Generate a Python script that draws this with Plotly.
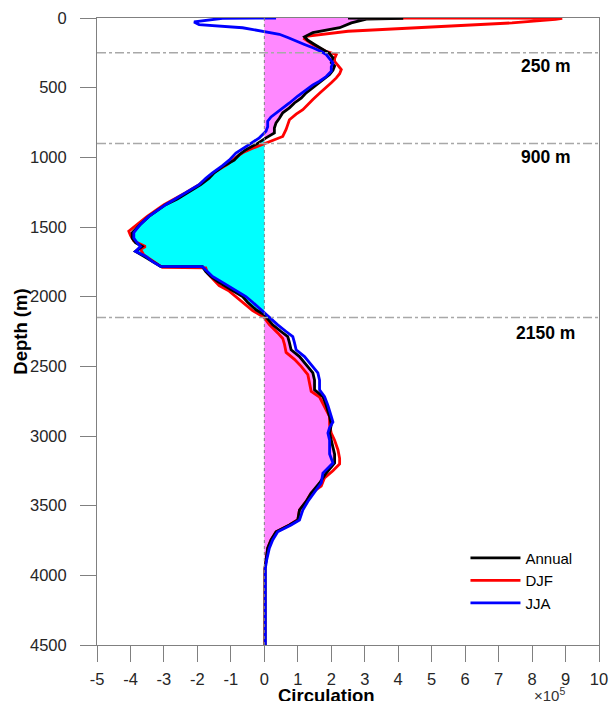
import numpy as np
import plotly.graph_objects as go

# ---------------- data (values in units of 1e5) ----------------
annual_depth = [0, 2, 8, 35, 70, 105, 135, 160, 190, 225, 255, 286, 320, 345, 375, 406, 435, 465,
                500, 537, 575, 610, 645, 680, 720, 753, 790, 825, 860, 900, 945, 981, 1020, 1060,
                1111, 1150, 1196, 1254, 1300, 1340, 1380, 1424, 1480, 1541, 1580, 1613, 1640, 1675,
                1710, 1747, 1783, 1785, 1820, 1855, 1890, 1927, 1960, 1999, 2040, 2094, 2130, 2160,
                2202, 2250, 2286, 2330, 2381, 2430, 2490, 2547, 2600, 2669, 2717, 2780, 2860, 2920,
                2979, 3030, 3076, 3130, 3194, 3266, 3337, 3409, 3470, 3531, 3603, 3639, 3687, 3746,
                3805, 3890, 3950, 4500]
annual_val = [2.5, 4.15, 3.05, 2.6, 2.25, 1.45, 1.2, 1.3, 1.5, 1.75, 1.95, 2.05, 2.0, 2.1, 2.05, 1.95,
              1.8, 1.65, 1.45, 1.25, 1.1, 0.9, 0.75, 0.55, 0.45, 0.35, 0.3, 0.3, 0.05, -0.2, -0.55,
              -0.75, -0.9, -1.2, -1.5, -1.65, -1.9, -2.3, -2.6, -2.95, -3.2, -3.45, -3.7, -3.95,
              -3.95, -3.85, -3.65, -3.85, -3.6, -3.35, -3.1, -1.85, -1.75, -1.6, -1.4, -1.15, -0.9,
              -0.65, -0.5, -0.25, 0.0, 0.1, 0.25, 0.5, 0.7, 0.75, 0.8, 1.05, 1.25, 1.45, 1.5, 1.5,
              1.75, 1.85, 1.95, 2.0, 1.95, 2.0, 2.05, 2.1, 2.1, 1.85, 1.65, 1.4, 1.25, 1.05, 1.0,
              0.75, 0.35, 0.2, 0.1, 0.05, 0.02, 0.02]

djf_depth = [0, 2, 10, 35, 95, 131, 150, 190, 240, 262, 290, 312, 340, 370, 400, 430, 465, 500,
             540, 585, 620, 658, 690, 730, 765, 800, 850, 885, 930, 967, 1000, 1050, 1100, 1150,
             1196, 1254, 1300, 1340, 1424, 1480, 1530, 1560, 1600, 1640, 1660, 1700, 1747, 1790,
             1793, 1830, 1870, 1920, 1960, 2000, 2050, 2100, 2150, 2200, 2260, 2300, 2340, 2400,
             2450, 2500, 2560, 2620, 2680, 2720, 2790, 2860, 2920, 2980, 3030, 3100, 3160, 3200,
             3250, 3300, 3360, 3409, 3470, 3531, 3600, 3639, 3687, 3746, 3805, 3890, 3950, 4500]
djf_val = [3.0, 8.9, 8.7, 7.4, 2.5, 1.25, 1.2, 1.45, 1.85, 2.15, 2.1, 2.1, 2.2, 2.3, 2.25, 2.15, 2.0,
           1.85, 1.65, 1.45, 1.3, 1.15, 0.95, 0.75, 0.7, 0.65, 0.55, 0.15, -0.3, -0.65, -0.85, -1.1,
           -1.45, -1.7, -1.95, -2.35, -2.7, -3.0, -3.5, -3.8, -4.05, -4.0, -3.9, -3.55, -3.7, -3.6,
           -3.3, -3.05, -1.75, -1.7, -1.55, -1.35, -1.05, -0.85, -0.6, -0.35, 0.0, 0.15, 0.4, 0.55,
           0.6, 0.65, 0.9, 1.1, 1.3, 1.35, 1.4, 1.65, 1.8, 1.95, 1.95, 2.0, 2.1, 2.2, 2.25, 2.25,
           2.05, 1.8, 1.7, 1.4, 1.25, 1.05, 1.0, 0.75, 0.35, 0.2, 0.1, 0.05, 0.02, 0.02]

jja_depth = [0, 2, 28, 47, 70, 95, 117, 140, 167, 190, 214, 240, 262, 290, 322, 350, 382, 420, 454,
             480, 514, 560, 610, 645, 680, 710, 741, 780, 813, 860, 900, 970, 1020, 1060, 1111,
             1150, 1196, 1254, 1300, 1340, 1424, 1480, 1541, 1580, 1613, 1640, 1675, 1710, 1747,
             1783, 1785, 1820, 1855, 1890, 1927, 1960, 1999, 2040, 2094, 2120, 2150, 2202, 2250,
             2286, 2330, 2381, 2430, 2490, 2547, 2600, 2669, 2717, 2780, 2860, 2900, 2940, 2979,
             3030, 3076, 3130, 3194, 3266, 3337, 3400, 3470, 3531, 3603, 3639, 3687, 3746, 3805,
             3890, 3950, 4500]
jja_val = [0.35, -1.25, -2.1, -1.95, -0.65, -0.05, 0.45, 0.7, 0.95, 1.2, 1.45, 1.7, 1.85, 1.95, 2.05,
           2.0, 2.0, 1.85, 1.65, 1.45, 1.25, 1.0, 0.75, 0.55, 0.35, 0.2, 0.1, 0.1, 0.05, -0.15, -0.4,
           -0.85, -1.05, -1.25, -1.55, -1.75, -1.95, -2.35, -2.7, -2.95, -3.45, -3.7, -3.9, -3.9,
           -3.8, -3.7, -3.85, -3.55, -3.35, -3.1, -1.85, -1.7, -1.55, -1.3, -1.05, -0.8, -0.55,
           -0.35, -0.1, 0.0, 0.15, 0.4, 0.65, 0.85, 0.9, 0.95, 1.2, 1.4, 1.6, 1.65, 1.65, 1.8, 1.9,
           2.0, 2.05, 1.95, 1.9, 1.95, 1.95, 1.95, 2.05, 1.75, 1.7, 1.5, 1.3, 1.15, 1.05, 0.8, 0.4,
           0.25, 0.15, 0.07, 0.03, 0.03]

ref_depths = [250, 900, 2150]
ref_labels = ["250 m", "900 m", "2150 m"]
ref_label_depths = [341, 995, 2259]

x_ticks = list(range(-5, 11))
y_ticks = list(range(0, 4501, 500))

FONT = "Liberation Sans, Arial, sans-serif"

fig = go.Figure()

a = np.array(annual_val)
fig.add_trace(go.Scatter(x=np.maximum(a, 0), y=annual_depth, mode="lines", fill="tozerox",
                         fillcolor="rgb(255,136,255)", line=dict(width=0), showlegend=False,
                         hoverinfo="skip"))
fig.add_trace(go.Scatter(x=np.minimum(a, 0), y=annual_depth, mode="lines", fill="tozerox",
                         fillcolor="rgb(0,255,255)", line=dict(width=0), showlegend=False,
                         hoverinfo="skip"))

fig.add_trace(go.Scatter(x=djf_val, y=djf_depth, mode="lines", name="DJF",
                         line=dict(color="#ff0000", width=2.8), legendrank=2))
fig.add_trace(go.Scatter(x=annual_val, y=annual_depth, mode="lines", name="Annual",
                         line=dict(color="#000000", width=2.8), legendrank=1))
fig.add_trace(go.Scatter(x=jja_val, y=jja_depth, mode="lines", name="JJA",
                         line=dict(color="#0000ff", width=2.8), legendrank=3))

# reference depth lines
for d in ref_depths:
    fig.add_shape(type="line", xref="paper", x0=0, x1=1, yref="y", y0=d, y1=d,
                  line=dict(color="#a8a8a8", width=1.5, dash="dashdot"), layer="above")
for lab, d in zip(ref_labels, ref_label_depths):
    fig.add_annotation(x=8.41, y=d, xref="x", yref="y", text="<b>%s</b>" % lab,
                       showarrow=False, font=dict(family=FONT, size=17.5, color="#000"))

# zero line
fig.add_shape(type="line", xref="x", x0=0, x1=0, yref="paper", y0=0, y1=1,
              line=dict(color="#808080", width=1, dash="dot"), layer="above")

# axis titles as annotations
fig.add_annotation(x=0.458, y=0, xref="paper", yref="paper", yshift=-50, text="<b>Circulation</b>",
                   showarrow=False, font=dict(family=FONT, size=18.5, color="#000"),
                   xanchor="center", yanchor="middle")
fig.add_annotation(x=0.866, y=0, xref="paper", yref="paper", yshift=-49,
                   text="×10<sup>5</sup>", showarrow=False,
                   font=dict(family=FONT, size=15, color="#333"), xanchor="left", yanchor="middle")
fig.add_annotation(x=-0.153, y=0.5, xref="paper", yref="paper", text="<b>Depth (m)</b>",
                   textangle=-90, showarrow=False, font=dict(family=FONT, size=18.5, color="#000"),
                   xanchor="center", yanchor="middle")

axis_common = dict(showline=True, linecolor="#808080", linewidth=1, mirror=True,
                   ticks="outside", ticklen=16, tickwidth=1, tickcolor="#808080",
                   showgrid=False, zeroline=False, automargin=False,
                   tickfont=dict(family=FONT, size=16.5, color="#262626"))

fig.update_layout(
    width=609, height=701,
    margin=dict(l=97, r=10, t=18, b=56),
    paper_bgcolor="white", plot_bgcolor="white",
    showlegend=True,
    legend=dict(x=0.734, y=0.165, xanchor="left", yanchor="top", bgcolor="rgba(0,0,0,0)",
                font=dict(family=FONT, size=15, color="#000"), itemwidth=50,
                tracegroupgap=0),
    xaxis=dict(range=[-5, 10], tickvals=x_ticks, ticktext=[str(t) for t in x_ticks],
               ticklabelstandoff=3, **axis_common),
    yaxis=dict(range=[4500, 0], tickvals=y_ticks, ticktext=[str(t) for t in y_ticks],
               ticklabelstandoff=10, **axis_common),
)

fig.write_html("out.html", config={"displayModeBar": False},
               post_script="document.body.style.margin='0px';document.body.style.overflow='hidden';")
